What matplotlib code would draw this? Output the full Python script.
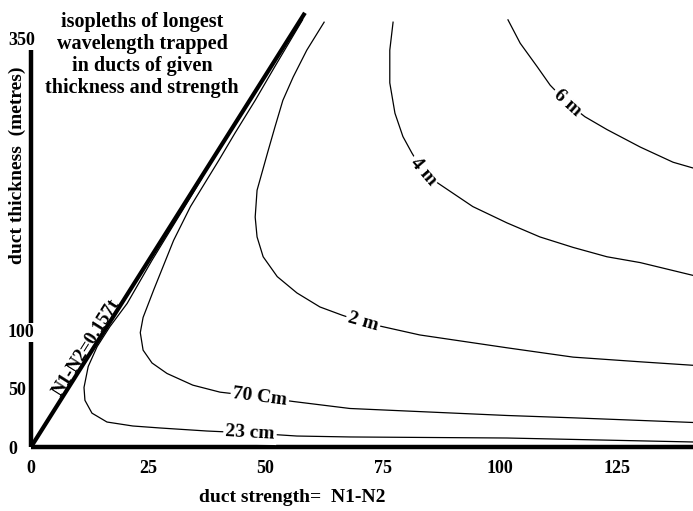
import numpy as np
import matplotlib
matplotlib.use("Agg")
import matplotlib.pyplot as plt

plt.rcParams['font.family'] = ['Liberation Serif', 'DejaVu Serif']
plt.rcParams['font.weight'] = 'bold'

# ---- data ----
x_ticks = [0, 25, 50, 75, 100, 125]
x_tick_labels = ['0', '25', '50', '75', '100', '125']
y_ticks = [0, 50, 100, 350]
y_tick_labels = ['0', '50', '100', '350']

cutoff_coef = 0.157      # N1-N2 = 0.157 t
cutoff_top_t = 372

c23_x = [36.4, 33.7, 25.8, 20.5, 16.8, 14.1, 12.2, 11.3, 11.5, 13.0, 16.2, 21.7, 27.5, 37.5, 46.7, 56.7, 68.0, 101.5, 141.2]
c23_y = [230, 212, 160, 123, 103, 86, 69, 51, 40, 29, 21.4, 18, 16.3, 13.7, 12, 9.4, 8.6, 7.7, 4.3]
c70_x = [57.9, 52.0, 47.8, 43.5, 40.1, 34.0, 30.4, 28.1, 26.2, 23.9, 23.3, 23.9, 25.8, 29.0, 34.5, 40.3, 48.8, 55.9, 68.0, 101.5, 115.6, 141.2]
c70_y = [366, 326, 297, 269, 246, 206, 177, 154, 135, 111, 98, 83, 72, 63, 53, 47, 43, 39, 33, 27, 25, 21]
c2_x = [62.5, 58.8, 55.9, 53.7, 52.0, 50.5, 48.2, 47.8, 48.2, 49.5, 52.5, 56.7, 61.6, 66.3, 70.8, 75.1, 82.9, 101.5, 115.6, 129.9, 141.2]
c2_y = [364, 340, 317, 297, 274, 253, 220, 197, 180, 163, 146, 132, 120, 113, 107, 103, 96, 85, 77, 73, 70]
c4_x = [77.2, 76.5, 76.5, 77.6, 79.3, 81.2, 83.6, 86.8, 94.2, 101.5, 108.5, 115.6, 122.8, 129.9, 141.2]
c4_y = [364, 340, 312, 286, 266, 252, 236, 226, 206, 192, 180, 171, 163, 158, 147]
c6_x = [101.7, 104.3, 107.9, 110.7, 114.3, 118.1, 122.8, 129.9, 136.9, 141.2]
c6_y = [366, 346, 326, 310, 295, 283, 272, 257, 244, 239]

curve_labels = ['23 cm', '70 Cm', '2 m', '4 m', '6 m']
curve_label_idx = [14, 16, 14, 6, 4]

title_text = "isopleths of longest\nwavelength trapped\nin ducts of given\nthickness and strength"
xlabel_text = "duct strength=  N1-N2"
ylabel_text = "duct thickness  (metres)"
cutoff_text = "N1-N2=0.157t"

# ---- figure ----
W, H = 693, 511
fig = plt.figure(figsize=(W / 100, H / 100), dpi=100)
ax = fig.add_axes([31 / W, 64 / H, 662 / W, 447 / H])
ax.set_xlim(0, 141.15)
ax.set_ylim(0, 383.0)
for s in ax.spines.values():
    s.set_visible(False)
ax.set_axisbelow(False)

# axes lines
ax.plot([0, 141.15], [0, 0], color='black', lw=3.2, solid_capstyle='butt', clip_on=False, zorder=1)
ax.plot([0, 0], [0, 342.8], color='black', lw=3.2, solid_capstyle='butt', clip_on=False, zorder=1)

# cutoff diagonal
ts = np.array([0, cutoff_top_t])
ax.plot(cutoff_coef * ts, ts, color='black', lw=3.0, solid_capstyle='butt', zorder=3)

fig.canvas.draw()

def disp_angle(x0, y0, x1, y1):
    p0 = ax.transData.transform((x0, y0))
    p1 = ax.transData.transform((x1, y1))
    return np.degrees(np.arctan2(p1[1] - p0[1], p1[0] - p0[0]))

curves = [(c23_x, c23_y), (c70_x, c70_y), (c2_x, c2_y), (c4_x, c4_y), (c6_x, c6_y)]
for (cx, cy), lab, i in zip(curves, curve_labels, curve_label_idx):
    ax.plot(cx, cy, color='black', lw=0.9, zorder=2, clip_on=False)
    ang = disp_angle(cx[i - 1], cy[i - 1], cx[i + 1], cy[i + 1])
    ax.text(cx[i], cy[i], lab, fontsize=14, ha='center', va='center', rotation=ang,
            rotation_mode='anchor', zorder=4,
            bbox=dict(facecolor='white', edgecolor='none', pad=1.5))

# cutoff label
ang = disp_angle(0, 0, cutoff_coef * cutoff_top_t, cutoff_top_t)
ax.text(11.9, 85, cutoff_text, fontsize=13.5, ha='center', va='center', rotation=ang,
        rotation_mode='anchor', zorder=4)

# ticks
ax.set_xticks(x_ticks)
ax.set_xticklabels(x_tick_labels)
ax.set_yticks(y_ticks)
ax.set_yticklabels(y_tick_labels)
ax.tick_params(axis='x', length=0, pad=9, labelsize=13)
ax.tick_params(axis='y', length=0, pad=16.6, labelsize=13)
for lbl in ax.get_yticklabels():
    lbl.set_horizontalalignment('left')
    lbl.set_bbox(dict(facecolor='white', edgecolor='none', pad=0.5))

# labels
fig.text(292 / W, 1 - 498 / H, xlabel_text, fontsize=14, ha='center', va='center')
fig.text(17 / W, 1 - 165 / H, ylabel_text, fontsize=14, ha='center', va='center', rotation=90)
fig.text(142 / W, 1 - 55 / H, title_text, fontsize=14.5, ha='center', va='center',
         linespacing=1.12, multialignment='center')

fig.savefig('out.png', dpi=100)
